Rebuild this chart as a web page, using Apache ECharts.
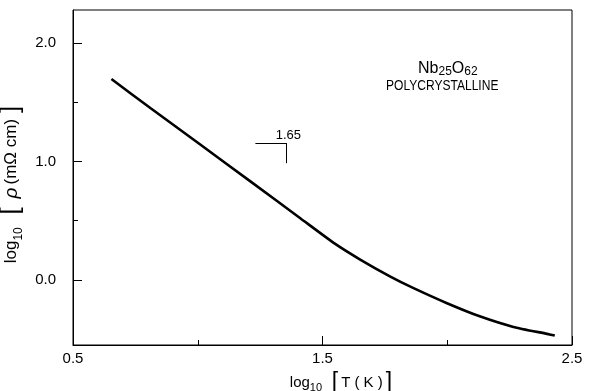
<!DOCTYPE html>
<html>
<head>
<meta charset="utf-8">
<script src="https://cdn.jsdelivr.net/npm/echarts@6/dist/echarts.min.js"></script>
<style>html,body{margin:0;padding:0;background:#fff}#c{width:608px;height:391px}</style>
</head>
<body>
<div id="c"></div>
<script>
// log10 T (K)
var logT = [0.654, 0.810, 1.010, 1.211, 1.411, 1.551, 1.651, 1.772, 1.865, 1.999, 2.133, 2.265, 2.400, 2.431];
// log10 rho (mOhm cm)
var logRho = [1.697, 1.452, 1.144, 0.832, 0.521, 0.304, 0.172, 0.028, -0.070, -0.197, -0.310, -0.397, -0.456, -0.470];
var xLabelValues = [0.5, 1.5, 2.5];
var xMinorTicks = [1.0, 2.0];
var yLabelValues = [0.0, 1.0, 2.0];
var yMinorTicks = [0.5, 1.5];
// slope indicator (data coordinates)
var slopeX = [1.231, 1.355];
var slopeY = [1.156, 0.986];
var slopeText = '1.65';

var FONT = '"Liberation Sans", Arial, Helvetica, sans-serif';
var chart = echarts.init(document.getElementById('c'), null, {renderer: 'canvas'});
var data = logT.map(function (x, i) { return [x, logRho[i]]; });

chart.setOption({
  animation: false,
  backgroundColor: '#fff',
  grid: {left: 73, right: 36, top: 10, bottom: 46, show: true, borderColor: '#000', borderWidth: 1,
    backgroundColor: 'transparent', outerBoundsMode: 'none', containLabel: false},
  xAxis: [{
    type: 'value', min: 0.5, max: 2.5, interval: 0.5, position: 'bottom',
    axisLine: {show: true, onZero: false, lineStyle: {color: '#000', width: 1}},
    axisTick: {show: true, inside: true, length: 9, lineStyle: {color: '#000'}, customValues: xLabelValues},
    axisLabel: {show: true, color: '#000', fontFamily: FONT, fontSize: 15, margin: 6, customValues: xLabelValues,
      formatter: function (v) { return v.toFixed(1); }},
    splitLine: {show: false},
    name: '{a|log}{s|10}  {b|[}{a|T ( K )}{b|]}', nameLocation: 'middle', nameGap: 20,
    nameTextStyle: {padding: [0, 0, 0, 40], rich: {
      a: {fontFamily: FONT, fontSize: 15, color: '#000'},
      s: {fontFamily: FONT, fontSize: 11, color: '#000', verticalAlign: 'bottom', padding: [9, 0, 0, 0]},
      b: {fontFamily: FONT, fontSize: 23, color: '#000', padding: [0, 3, 0, 3]}
    }}
  }, {
    type: 'value', min: 0.5, max: 2.5, interval: 0.5, position: 'bottom', offset: 0,
    axisLine: {show: false, onZero: false},
    axisTick: {show: true, inside: true, length: 5, lineStyle: {color: '#000'}, customValues: xMinorTicks},
    axisLabel: {show: false},
    splitLine: {show: false}
  }],
  yAxis: [{
    type: 'value', min: -0.55, max: 2.28, position: 'left',
    axisLine: {show: true, onZero: false, lineStyle: {color: '#000', width: 1}},
    axisTick: {show: true, inside: true, length: 9, lineStyle: {color: '#000'}, customValues: yLabelValues},
    axisLabel: {show: true, color: '#000', fontFamily: FONT, fontSize: 15, margin: 17, customValues: yLabelValues,
      formatter: function (v) { return v.toFixed(1); }},
    splitLine: {show: false},
    name: '{a|log}{s|10}  {b|[}{r|ρ}{a|(mΩ cm)}{b|]}', nameLocation: 'middle', nameGap: 29, nameRotate: 90,
    nameTextStyle: {padding: [0, 8, 0, 0], rich: {
      a: {fontFamily: FONT, fontSize: 17, color: '#000'},
      r: {fontFamily: FONT, fontSize: 19, color: '#000', fontStyle: 'italic', padding: [0, 3, 0, 3]},
      s: {fontFamily: FONT, fontSize: 12, color: '#000', verticalAlign: 'bottom', padding: [10, 0, 0, 0]},
      b: {fontFamily: FONT, fontSize: 26, color: '#000', padding: [0, 6, 0, 6]}
    }}
  }, {
    type: 'value', min: -0.55, max: 2.28, position: 'left', offset: 0,
    axisLine: {show: false, onZero: false},
    axisTick: {show: true, inside: true, length: 5, lineStyle: {color: '#000'}, customValues: yMinorTicks},
    axisLabel: {show: false},
    splitLine: {show: false}
  }],
  series: [{
    type: 'line', data: data, smooth: 0.2, showSymbol: false, symbol: 'none',
    lineStyle: {color: '#000', width: 2.6},
    markLine: {
      silent: true, symbol: 'none', animation: false,
      lineStyle: {color: '#000', width: 1, type: 'solid'},
      label: {show: false},
      data: [
        [{coord: [slopeX[0], slopeY[0]]}, {coord: [slopeX[1], slopeY[0]]}],
        [{coord: [slopeX[1], slopeY[0]]}, {coord: [slopeX[1], slopeY[1]]}]
      ]
    },
    markPoint: {
      silent: true, symbol: 'circle', symbolSize: 0,
      label: {show: true, formatter: slopeText, color: '#000', fontFamily: FONT, fontSize: 13, position: 'top', distance: 1, offset: [2, 0]},
      data: [{coord: [slopeX[1], slopeY[0]]}]
    }
  }],
  graphic: [{
    type: 'text', x: 418, y: 59,
    style: {
      x: 0, y: 0,
      text: '{a|Nb}{s|25}{a|O}{s|62}', fill: '#000',
      rich: {
        a: {fontFamily: FONT, fontSize: 16, fill: '#000'},
        s: {fontFamily: FONT, fontSize: 12, fill: '#000', verticalAlign: 'bottom', padding: [7, 0, 0, 0]}
      }
    }
  }, {
    type: 'text', x: 386, y: 79, scaleX: 0.86,
    style: {x: 0, y: 0, text: 'POLYCRYSTALLINE', fill: '#000', font: '14px ' + FONT}
  }]
});
</script>
</body>
</html>
